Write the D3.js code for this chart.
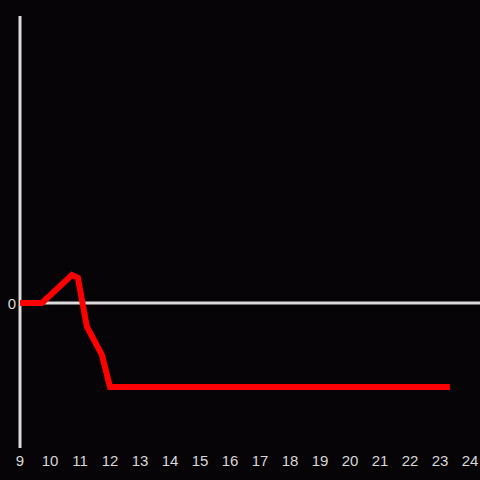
<!DOCTYPE html>
<html>
<head>
<meta charset="utf-8">
<script src="https://cdn.jsdelivr.net/npm/d3@7"></script>
<style>
  html, body { margin: 0; padding: 0; background: #060407; }
  svg { display: block; }
</style>
</head>
<body>
<svg id="chart"></svg>
<script>
// hours of the day and the value at each reading
const hours = [9, 9.73, 10.73, 10.93, 11.23, 11.73, 12.0, 23.33];
const values = [0, 0, 1, 0.9, -0.85, -1.85, -3, -3];
const xTicks = d3.range(9, 25);
const yTicks = [0];

const width = 480, height = 480;
const svg = d3.select('#chart').attr('width', width).attr('height', height);

svg.append('rect').attr('width', width).attr('height', height).attr('fill', '#060407');

const x = d3.scaleLinear().domain([9, 24]).range([20, 470]);
const y = d3.scaleLinear().domain([-5.18, 10.25]).range([448, 16]);

// vertical axis line
svg.append('line')
  .attr('x1', x(9)).attr('x2', x(9))
  .attr('y1', y(10.25)).attr('y2', y(-5.18))
  .attr('stroke', '#dcdcdc').attr('stroke-width', 3);

// zero line
svg.append('line')
  .attr('x1', x(9)).attr('x2', width)
  .attr('y1', y(0)).attr('y2', y(0))
  .attr('stroke', '#dcdcdc').attr('stroke-width', 3);

const font = '"Liberation Sans", Arial, sans-serif';

svg.append('g').selectAll('text').data(xTicks).enter().append('text')
  .attr('x', d => x(d)).attr('y', 466)
  .attr('text-anchor', 'middle')
  .attr('font-family', font).attr('font-size', 15)
  .attr('fill', '#d8d8d8')
  .text(d => d);

svg.append('g').selectAll('text').data(yTicks).enter().append('text')
  .attr('x', 16).attr('y', d => y(d) + 6)
  .attr('text-anchor', 'end')
  .attr('font-family', font).attr('font-size', 15)
  .attr('fill', '#d8d8d8')
  .text(d => d);

const line = d3.line().x((d, i) => x(hours[i])).y(d => y(d));
svg.append('path')
  .attr('d', line(values))
  .attr('fill', 'none')
  .attr('stroke', '#ff0000')
  .attr('stroke-width', 6)
  .attr('stroke-linejoin', 'miter');
</script>
</body>
</html>
